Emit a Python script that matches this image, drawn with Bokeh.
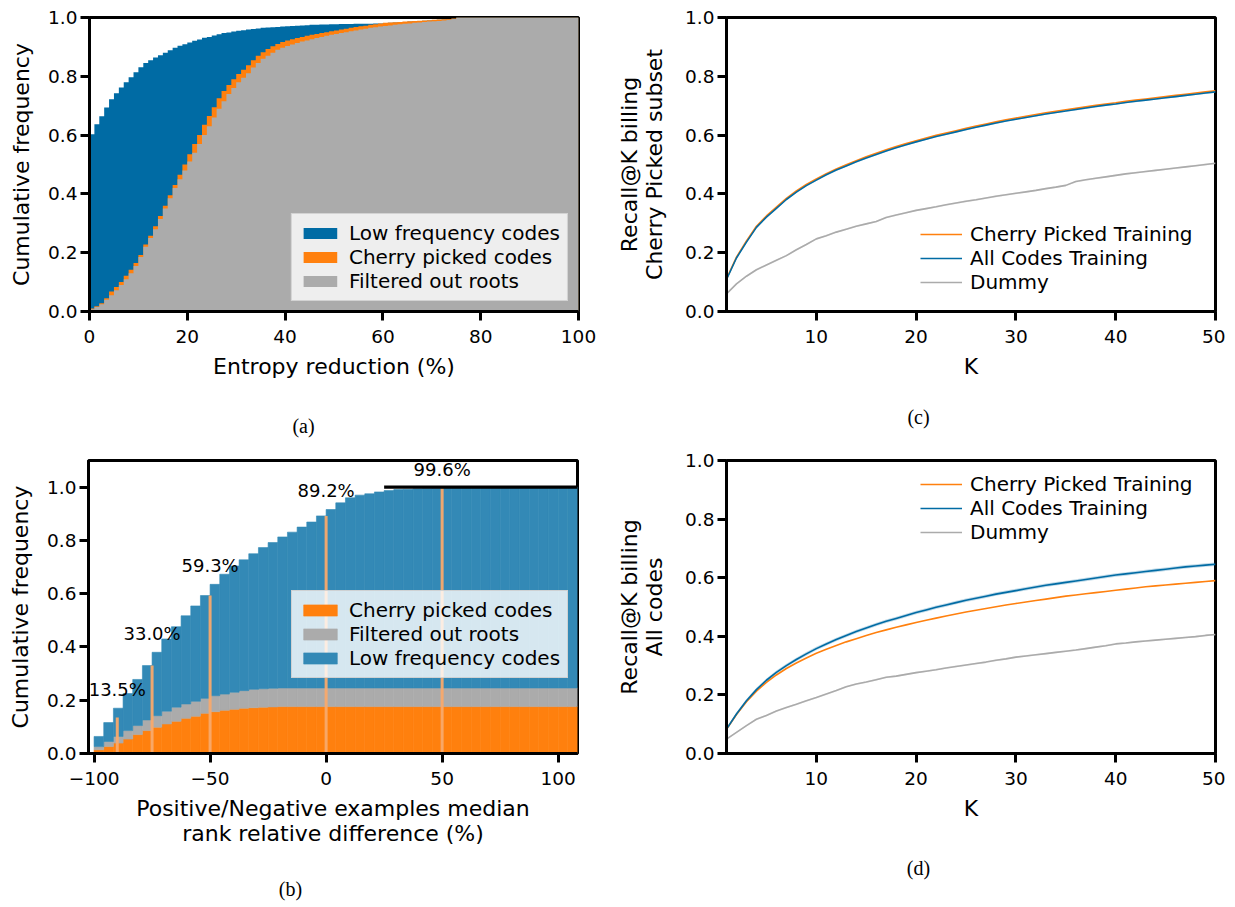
import numpy as np
from bokeh.plotting import figure
from bokeh.layouts import column, row
from bokeh.models import Range1d, FixedTicker, PrintfTickFormatter, ColumnDataSource
from bokeh.embed import file_html
from bokeh.resources import INLINE
from bokeh.core.properties import value

BLUE = "#006BA4"
BLUE_80 = "#3389B6"   # BLUE at 80 % opacity on white
ORANGE = "#FF800E"
GRAY = "#ABABAB"
FONT = "DejaVu Sans"
SERIF = "Liberation Serif"
TICK = "18.5px"
LAB = "22px"
LEG = "20px"

# ---------------- panel (a): cumulative histograms of entropy reduction (1 % bins)
entropy_edges = list(range(0, 101))
low_freq_cdf = [
    0.603, 0.637, 0.664, 0.694, 0.722, 0.742, 0.762, 0.780, 0.797, 0.814,
    0.831, 0.845, 0.855, 0.864, 0.872, 0.880, 0.889, 0.897, 0.904, 0.909,
    0.915, 0.921, 0.925, 0.931, 0.934, 0.939, 0.943, 0.947, 0.949, 0.952,
    0.955, 0.957, 0.959, 0.961, 0.963, 0.965, 0.966, 0.967, 0.968, 0.969,
    0.970, 0.971, 0.972, 0.973, 0.974, 0.975, 0.975, 0.976, 0.976, 0.977,
    0.977, 0.978, 0.978, 0.978, 0.979, 0.979, 0.979, 0.979, 0.980, 0.980,
    0.981, 0.982, 0.983, 0.984, 0.985, 0.986, 0.987, 0.988, 0.989, 0.990,
    0.991, 0.992, 0.993, 0.994, 0.996, 1.0, 1.0, 1.0, 1.0, 1.0,
    1.0, 1.0, 1.0, 1.0, 1.0, 1.0, 1.0, 1.0, 1.0, 1.0,
    1.0, 1.0, 1.0, 1.0, 1.0, 1.0, 1.0, 1.0, 1.0, 1.0]
cherry_cdf = [
    0.010, 0.018, 0.028, 0.045, 0.068, 0.083, 0.100, 0.122, 0.142, 0.165,
    0.192, 0.228, 0.258, 0.290, 0.325, 0.360, 0.395, 0.430, 0.465, 0.500,
    0.535, 0.570, 0.600, 0.635, 0.665, 0.695, 0.725, 0.750, 0.770, 0.790,
    0.808, 0.822, 0.838, 0.855, 0.870, 0.882, 0.893, 0.902, 0.910, 0.917,
    0.922, 0.926, 0.930, 0.934, 0.938, 0.941, 0.944, 0.947, 0.950, 0.953,
    0.956, 0.959, 0.962, 0.965, 0.968, 0.970, 0.972, 0.975, 0.977, 0.980,
    0.982, 0.983, 0.984, 0.985, 0.986, 0.987, 0.988, 0.989, 0.990, 0.991,
    0.992, 0.993, 0.994, 0.995, 0.997, 1.0, 1.0, 1.0, 1.0, 1.0,
    1.0, 1.0, 1.0, 1.0, 1.0, 1.0, 1.0, 1.0, 1.0, 1.0,
    1.0, 1.0, 1.0, 1.0, 1.0, 1.0, 1.0, 1.0, 1.0, 1.0]
filtered_cdf = [
    0.008, 0.015, 0.025, 0.040, 0.055, 0.072, 0.090, 0.110, 0.130, 0.155,
    0.185, 0.220, 0.250, 0.280, 0.315, 0.350, 0.385, 0.420, 0.450, 0.480,
    0.510, 0.540, 0.570, 0.600, 0.630, 0.660, 0.690, 0.715, 0.740, 0.760,
    0.780, 0.795, 0.810, 0.830, 0.845, 0.860, 0.870, 0.880, 0.890, 0.897,
    0.903, 0.908, 0.913, 0.918, 0.922, 0.926, 0.930, 0.934, 0.938, 0.941,
    0.944, 0.947, 0.950, 0.953, 0.956, 0.959, 0.962, 0.965, 0.967, 0.969,
    0.971, 0.973, 0.975, 0.977, 0.979, 0.980, 0.982, 0.983, 0.985, 0.986,
    0.987, 0.988, 0.990, 0.992, 0.995, 1.0, 1.0, 1.0, 1.0, 1.0,
    1.0, 1.0, 1.0, 1.0, 1.0, 1.0, 1.0, 1.0, 1.0, 1.0,
    1.0, 1.0, 1.0, 1.0, 1.0, 1.0, 1.0, 1.0, 1.0, 1.0]

# ---------------- panel (b): stacked cumulative histogram, 50 bins from -100 to 108.33
rank_min, rank_max, rank_nbins = -100.0, 108.333, 50
rank_cherry = [
    0.014, 0.026, 0.039, 0.054, 0.071, 0.086, 0.099, 0.111, 0.121, 0.132,
    0.140, 0.151, 0.157, 0.162, 0.166, 0.170, 0.172, 0.174, 0.175, 0.176,
    0.176, 0.176, 0.176, 0.176, 0.176, 0.176, 0.176, 0.176, 0.176, 0.176,
    0.176, 0.176, 0.176, 0.176, 0.176, 0.176, 0.176, 0.176, 0.176, 0.176,
    0.176, 0.176, 0.176, 0.176, 0.176, 0.176, 0.176, 0.176, 0.176, 0.176]
rank_filtered = [
    0.012, 0.019, 0.025, 0.032, 0.034, 0.040, 0.043, 0.048, 0.053, 0.054,
    0.056, 0.056, 0.060, 0.061, 0.064, 0.066, 0.069, 0.069, 0.070, 0.070,
    0.070, 0.070, 0.070, 0.070, 0.070, 0.070, 0.070, 0.070, 0.070, 0.070,
    0.070, 0.070, 0.070, 0.070, 0.070, 0.070, 0.070, 0.070, 0.070, 0.070,
    0.070, 0.070, 0.070, 0.070, 0.070, 0.070, 0.070, 0.070, 0.070, 0.070]
rank_low = [
    0.038, 0.071, 0.106, 0.139, 0.173, 0.204, 0.238, 0.271, 0.302, 0.331,
    0.358, 0.386, 0.418, 0.450, 0.474, 0.491, 0.509, 0.530, 0.547, 0.567,
    0.585, 0.604, 0.623, 0.646, 0.670, 0.695, 0.714, 0.724, 0.729, 0.736,
    0.741, 0.745, 0.746, 0.748, 0.749, 0.750, 0.751, 0.752, 0.752, 0.753,
    0.753, 0.753, 0.753, 0.754, 0.754, 0.754, 0.754, 0.754, 0.754, 0.754]
mark_x = [-90, -75, -50, 0, 50]
mark_frac = [0.135, 0.330, 0.593, 0.892, 0.996]
plateau_start = 25
plateau_level = 1.0

# ---------------- panels (c) and (d): Recall@K
K = list(range(1, 51))
c_cherry = [
    0.111, 0.185, 0.240, 0.290, 0.325, 0.355, 0.385, 0.410, 0.432, 0.451,
    0.469, 0.485, 0.499, 0.513, 0.526, 0.538, 0.550, 0.561, 0.571, 0.581,
    0.590, 0.599, 0.607, 0.615, 0.623, 0.631, 0.638, 0.645, 0.652, 0.658,
    0.664, 0.670, 0.676, 0.681, 0.686, 0.691, 0.696, 0.701, 0.706, 0.710,
    0.715, 0.719, 0.723, 0.727, 0.731, 0.735, 0.739, 0.743, 0.747, 0.751]
c_all = [
    0.109, 0.182, 0.236, 0.286, 0.321, 0.351, 0.381, 0.406, 0.428, 0.447,
    0.465, 0.481, 0.495, 0.509, 0.522, 0.534, 0.546, 0.557, 0.567, 0.577,
    0.586, 0.595, 0.603, 0.611, 0.619, 0.627, 0.634, 0.641, 0.648, 0.654,
    0.660, 0.666, 0.672, 0.677, 0.682, 0.687, 0.692, 0.697, 0.702, 0.706,
    0.711, 0.715, 0.719, 0.723, 0.727, 0.731, 0.735, 0.739, 0.743, 0.747]
c_dummy = [
    0.060, 0.094, 0.120, 0.142, 0.158, 0.174, 0.190, 0.210, 0.228, 0.247,
    0.258, 0.270, 0.280, 0.290, 0.298, 0.306, 0.320, 0.328, 0.336, 0.344,
    0.350, 0.356, 0.363, 0.369, 0.375, 0.380, 0.386, 0.392, 0.397, 0.402,
    0.407, 0.412, 0.418, 0.423, 0.429, 0.442, 0.448, 0.453, 0.458, 0.463,
    0.468, 0.472, 0.476, 0.480, 0.484, 0.488, 0.492, 0.496, 0.500, 0.504]
d_cherry = [
    0.083, 0.133, 0.177, 0.213, 0.243, 0.268, 0.290, 0.309, 0.326, 0.342,
    0.356, 0.369, 0.381, 0.392, 0.403, 0.413, 0.422, 0.431, 0.439, 0.447,
    0.455, 0.462, 0.469, 0.476, 0.483, 0.489, 0.495, 0.501, 0.507, 0.512,
    0.517, 0.522, 0.527, 0.532, 0.537, 0.541, 0.545, 0.549, 0.553, 0.557,
    0.561, 0.565, 0.569, 0.572, 0.575, 0.578, 0.581, 0.584, 0.587, 0.590]
d_all = [
    0.083, 0.135, 0.180, 0.218, 0.250, 0.277, 0.300, 0.321, 0.340, 0.358,
    0.374, 0.389, 0.403, 0.416, 0.428, 0.440, 0.451, 0.461, 0.471, 0.481,
    0.490, 0.499, 0.507, 0.515, 0.523, 0.530, 0.537, 0.544, 0.550, 0.556,
    0.562, 0.568, 0.574, 0.579, 0.584, 0.589, 0.594, 0.599, 0.604, 0.609,
    0.613, 0.617, 0.621, 0.625, 0.629, 0.633, 0.637, 0.640, 0.643, 0.646]
d_dummy = [
    0.049, 0.072, 0.095, 0.117, 0.130, 0.145, 0.157, 0.168, 0.180, 0.191,
    0.203, 0.215, 0.228, 0.237, 0.244, 0.252, 0.260, 0.264, 0.270, 0.276,
    0.281, 0.286, 0.292, 0.297, 0.302, 0.307, 0.312, 0.318, 0.323, 0.329,
    0.333, 0.337, 0.341, 0.345, 0.349, 0.353, 0.358, 0.363, 0.368, 0.374,
    0.377, 0.381, 0.384, 0.387, 0.390, 0.393, 0.396, 0.399, 0.403, 0.406]
c_ci_half = 0.003
d_ci_half = 0.006
dummy_ci_half = 0.003

captions_top = ["(a)", "(c)"]
captions_bottom = ["(b)", "(d)"]


def base_fig(width, height, xr, yr, bl, br, bt, bb, ylab_standoff):
    p = figure(width=width, height=height, x_range=xr, y_range=yr,
               output_backend="svg", toolbar_location=None,
               min_border_left=bl, min_border_right=br,
               min_border_top=bt, min_border_bottom=bb)
    p.background_fill_color = "white"
    p.border_fill_color = "white"
    p.outline_line_color = "black"
    p.outline_line_width = 3
    p.outline_line_alpha = 1
    p.xgrid.visible = False
    p.ygrid.visible = False
    for ax in p.axis:
        ax.axis_line_color = "black"
        ax.axis_line_width = 3
        ax.major_tick_line_color = "black"
        ax.major_tick_line_width = 3
        ax.major_tick_out = 9
        ax.major_tick_in = 0
        ax.minor_tick_out = 0
        ax.minor_tick_in = 0
        ax.major_label_text_font = FONT
        ax.major_label_text_font_size = TICK
        ax.major_label_text_color = "black"
        ax.axis_label_text_font = FONT
        ax.axis_label_text_font_size = LAB
        ax.axis_label_text_font_style = "normal"
        ax.axis_label_text_color = "black"
        ax.axis_label_text_line_height = 1.0
    p.xaxis.major_label_standoff = 9
    p.yaxis.major_label_standoff = 3
    p.xaxis.axis_label_standoff = 8
    p.yaxis.axis_label_standoff = ylab_standoff
    p.yaxis.ticker = FixedTicker(ticks=[0.0, 0.2, 0.4, 0.6, 0.8, 1.0])
    p.yaxis.formatter = PrintfTickFormatter(format="%.1f")
    return p


def caption_strip(height, texts, xs, ys):
    # a blank strip whose data units equal pixels (y measured downward)
    p = figure(width=1225, height=height, x_range=Range1d(0, 1225), y_range=Range1d(height, 0),
               output_backend="svg", toolbar_location=None,
               x_axis_location=None, y_axis_location=None,
               min_border_left=0, min_border_right=0, min_border_top=0, min_border_bottom=0)
    p.outline_line_color = None
    p.grid.visible = False
    p.background_fill_color = "white"
    p.border_fill_color = "white"
    p.text(x=xs, y=ys, text=texts, text_align="center", text_baseline="middle",
           text_font=value(SERIF), text_font_size="20px", text_color="black")
    return p


def style_legend(p, loc, frame=True):
    lg = p.legend[0]
    lg.location = loc
    lg.label_text_font = FONT
    lg.label_text_font_size = LEG
    lg.label_text_color = "black"
    lg.glyph_width = 42
    lg.glyph_height = 14
    lg.label_height = 20
    lg.label_standoff = 8
    lg.spacing = 0
    lg.padding = 7
    lg.margin = 10
    if frame:
        lg.background_fill_color = "white"
        lg.background_fill_alpha = 0.8
        lg.border_line_color = "#cccccc"
        lg.border_line_alpha = 0.8
        lg.border_line_width = 1
    else:
        lg.background_fill_alpha = 0
        lg.border_line_alpha = 0


# ---------------- (a)
fa = base_fig(605, 390, Range1d(0, 100), Range1d(0, 1), 89, 27, 17, 79, 11)
xa = entropy_edges
for vals, col, lab in [(low_freq_cdf, BLUE, "Low frequency codes"),
                       (cherry_cdf, ORANGE, "Cherry picked codes"),
                       (filtered_cdf, GRAY, "Filtered out roots")]:
    ys = list(vals) + [vals[-1]]
    fa.varea_step(x=xa, y1=[0] * len(xa), y2=ys, step_mode="after",
                  fill_color=col, fill_alpha=1, legend_label=lab)
fa.xaxis.ticker = FixedTicker(ticks=[0, 20, 40, 60, 80, 100])
fa.xaxis.axis_label = "Entropy reduction (%)"
fa.yaxis.axis_label = "Cumulative frequency"
style_legend(fa, "bottom_right")


# ---------------- (c) / (d)
def recall_fig(cherry, allc, dummy, ci, ylabel, legend_loc, height, bt, bb):
    p = base_fig(620, height, Range1d(1, 50), Range1d(0, 1), 121, 10, bt, bb, 15)
    src = ColumnDataSource(dict(
        k=K, cherry=cherry, allc=allc, dummy=dummy,
        all_lo=[v - ci for v in allc], all_hi=[v + ci for v in allc],
        d_lo=[v - dummy_ci_half for v in dummy], d_hi=[v + dummy_ci_half for v in dummy]))
    p.varea(x="k", y1="d_lo", y2="d_hi", source=src, fill_color=GRAY, fill_alpha=0.25)
    p.varea(x="k", y1="all_lo", y2="all_hi", source=src, fill_color=BLUE, fill_alpha=0.25)
    p.line(x="k", y="cherry", source=src, line_color=ORANGE, line_width=1.6,
           legend_label="Cherry Picked Training")
    p.line(x="k", y="allc", source=src, line_color=BLUE, line_width=1.6,
           legend_label="All Codes Training")
    p.line(x="k", y="dummy", source=src, line_color=GRAY, line_width=1.6,
           legend_label="Dummy")
    p.xaxis.ticker = FixedTicker(ticks=[10, 20, 30, 40, 50])
    p.xaxis.axis_label = "K"
    p.yaxis.axis_label = ylabel
    style_legend(p, legend_loc, frame=False)
    return p


fc = recall_fig(c_cherry, c_all, c_dummy, c_ci_half,
                "Recall@K billing\nCherry Picked subset", (187, 10), 390, 17, 79)

# ---------------- (b)
bw = (rank_max - rank_min) / rank_nbins
centers = [rank_min + bw * (i + 0.5) for i in range(rank_nbins)]
fb = base_fig(605, 399, Range1d(-102.4, rank_max), Range1d(0, 1.1), 88, 28, 10, 96, 11)
srcb = ColumnDataSource(dict(x=centers, cherry=rank_cherry, filtered=rank_filtered, low=rank_low))
fb.vbar_stack(["cherry", "filtered", "low"], x="x", width=bw, source=srcb,
              fill_color=[ORANGE, GRAY, BLUE_80], line_color=[ORANGE, GRAY, BLUE_80],
              line_width=0.6,
              legend_label=["Cherry picked codes", "Filtered out roots", "Low frequency codes"])
totals = [a + b + c for a, b, c in zip(rank_cherry, rank_filtered, rank_low)]
fb.segment(x0=mark_x, y0=[0] * len(mark_x), x1=mark_x, y1=mark_frac,
           line_color="#F8A96B", line_width=3, line_alpha=0.95)
lab_y = [totals[int((mx - rank_min) // bw)] + 0.07 for mx in mark_x]
fb.text(x=mark_x, y=lab_y, text=["%.1f%%" % (f * 100) for f in mark_frac],
        text_align="center", text_baseline="middle",
        text_font=value(FONT), text_font_size="18px", text_color="black")
fb.segment(x0=[plateau_start], y0=[plateau_level], x1=[rank_max], y1=[plateau_level],
           line_color="black", line_width=3.3)
fb.xaxis.ticker = FixedTicker(ticks=[-100, -50, 0, 50, 100])
fb.xaxis.major_label_overrides = {-100: "\u2212100", -50: "\u221250"}
fb.xaxis.axis_label = "Positive/Negative examples median\nrank relative difference (%)"
fb.yaxis.axis_label = "Cumulative frequency"
style_legend(fb, (203, 75))

# ---------------- (d)
fd = recall_fig(d_cherry, d_all, d_dummy, d_ci_half,
                "Recall@K billing\nAll codes", (187, 202), 399, 10, 96)

cap_top = caption_strip(60, captions_top, [303, 918], [35, 26])
cap_bot = caption_strip(56, captions_bottom, [290, 918], [39, 18])

layout = column(row(fa, fc), cap_top, row(fb, fd), cap_bot)
open("out.html", "w").write(file_html(layout, INLINE))
